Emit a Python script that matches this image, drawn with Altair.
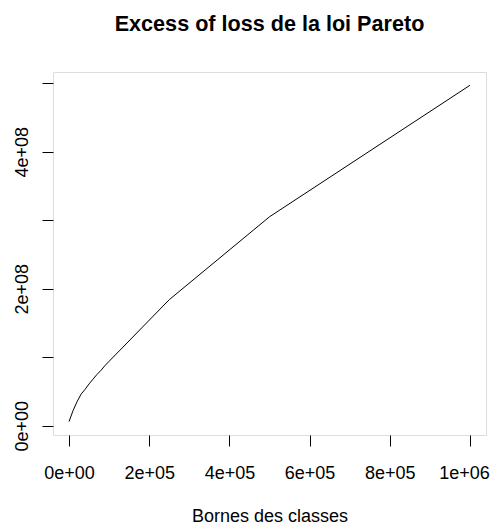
import altair as alt
import pandas as pd

bornes = [0, 1e4, 2e4, 3e4, 4e4, 5e4, 6e4, 7e4, 8e4, 9e4, 1e5, 2.5e5, 5e5, 1e6]
excess = [6e6, 2.2e7, 3.5e7, 4.6e7, 5.3e7, 6.1e7, 6.8e7, 7.5e7, 8.1e7, 8.8e7, 9.4e7, 1.84e8, 3.05e8, 4.97e8]

x_ticks = [0, 2e5, 4e5, 6e5, 8e5, 1e6]
x_labels = ["0e+00", "2e+05", "4e+05", "6e+05", "8e+05", "1e+06"]
y_ticks = [0, 1e8, 2e8, 3e8, 4e8, 5e8]
y_labels = ["0e+00", "", "2e+08", "", "4e+08", ""]

df = pd.DataFrame({"borne": bornes, "xl": excess})

def label_expr(ticks, labels):
    parts = []
    for t, l in zip(ticks, labels):
        parts.append(f"datum.value == {t:.0f} ? '{l}' : ")
    return "".join(parts) + "''"

FONT = "Liberation Sans"

chart = alt.Chart(df).mark_line(color="black", strokeWidth=1).encode(
    x=alt.X("borne:Q",
            scale=alt.Scale(domain=[-4e4, 1.04e6], nice=False, zero=False),
            axis=alt.Axis(values=x_ticks, labelExpr=label_expr(x_ticks, x_labels),
                          title="Bornes des classes", domain=False, grid=False,
                          tickSize=11, tickColor="black", labelColor="black",
                          labelFont=FONT, labelFontSize=18, labelPadding=32,
                          labelBaseline="alphabetic", labelFlush=False,
                          labelOverlap=False,
                          labelOffset=alt.ExprRef("datum.value >= 1000000 ? -6 : 0"),
                          titleFont=FONT, titleFontSize=18, titleFontWeight="normal",
                          titleColor="black", titleBaseline="alphabetic", titleY=86)),
    y=alt.Y("xl:Q",
            scale=alt.Scale(domain=[-1.36e7, 5.164e8], nice=False, zero=False),
            axis=alt.Axis(values=y_ticks, labelExpr=label_expr(y_ticks, y_labels),
                          title=None, domain=False, grid=False,
                          tickSize=11, tickColor="black", labelColor="black",
                          labelFont=FONT, labelFontSize=18, labelPadding=15,
                          labelAngle=270, labelAlign="center", labelBaseline="alphabetic",
                          labelFlush=False, labelOverlap=False)),
).properties(
    width=433,
    height=363,
    title=alt.TitleParams("Excess of loss de la loi Pareto", font=FONT, fontSize=21.6,
                          fontWeight="bold", color="black", anchor="middle",
                          baseline="alphabetic", offset=19, frame="group"),
    autosize=alt.AutoSizeParams(type="none"),
    padding={"left": 45, "top": 64, "right": 4, "bottom": 90},
).configure_view(stroke="black", strokeWidth=1).configure(background="white")

chart.save("out.html", embed_options={"renderer": "svg", "actions": False})
